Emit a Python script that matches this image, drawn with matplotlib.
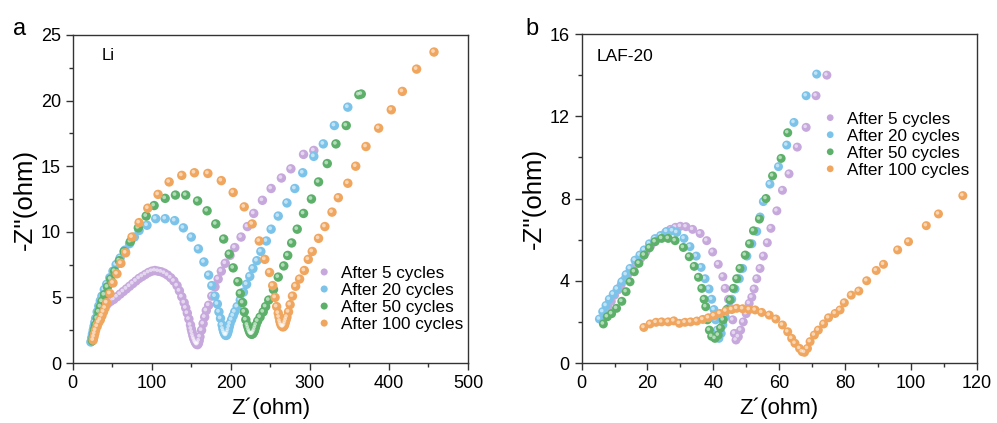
import matplotlib
matplotlib.use("Agg")
import matplotlib.pyplot as plt
from matplotlib.ticker import MultipleLocator
from matplotlib.transforms import ScaledTranslation

plt.rcParams['font.family'] = ['Liberation Sans', 'DejaVu Sans']

labels = ["After 5 cycles", "After 20 cycles", "After 50 cycles", "After 100 cycles"]
colors = ["#c6a8dc", "#7cc3ea", "#5cb06a", "#f0a65e"]

# ---- Panel a (Li) ----
A5_x = [24, 25, 26, 27, 28, 29, 30, 31, 33, 35, 37, 40, 44, 48, 52, 56, 60, 64, 68, 72, 76, 80, 84, 88, 92, 96,
        100, 104, 108, 112, 116, 120, 124, 128, 132, 135, 138, 141, 143, 145, 147, 149, 150, 151, 152, 153, 154,
        155, 156, 157, 158, 159, 160, 161, 163, 165, 167, 169, 172, 176, 180, 184, 188, 193, 199, 205, 213, 221,
        229, 240, 251, 264, 276, 292, 305]
A5_y = [1.7, 2.0, 2.3, 2.6, 2.9, 3.1, 3.3, 3.5, 3.75, 3.95, 4.1, 4.3, 4.5, 4.7, 4.85, 5.05, 5.25, 5.45, 5.65,
        5.85, 6.05, 6.25, 6.45, 6.6, 6.75, 6.9, 7.0, 7.05, 7.0, 6.95, 6.85, 6.7, 6.5, 6.25, 5.9, 5.5, 5.05, 4.6,
        4.2, 3.8, 3.35, 2.9, 2.6, 2.35, 2.1, 1.9, 1.75, 1.6, 1.5, 1.42, 1.4, 1.5, 1.7, 2.0, 2.5, 3.0, 3.5, 4.0,
        4.4, 5.1, 5.8, 6.4, 7.0, 7.6, 8.2, 8.8, 9.6, 10.4, 11.4, 12.4, 13.3, 14.1, 14.8, 15.9, 16.2]

A20_x = [23, 24, 25, 26, 27, 28, 29, 31, 33, 35, 37, 40, 43, 47, 51, 55, 60, 66, 72, 78, 84, 94, 105, 117, 129,
         140, 150, 159, 166, 172, 176, 180, 183, 185, 187, 189, 190, 191, 192, 193, 194, 195, 196, 197, 198, 199,
         201, 203, 205, 208, 212, 216, 220, 224, 228, 233, 238, 245, 251, 260, 271, 281, 291, 305, 317, 331, 348]
A20_y = [1.6, 1.9, 2.2, 2.5, 2.8, 3.1, 3.4, 3.9, 4.35, 4.75, 5.1, 5.6, 6.0, 6.5, 7.0, 7.5, 8.0, 8.6, 9.1, 9.6,
         10.1, 10.5, 11.0, 11.0, 10.85, 10.3, 9.6, 8.7, 7.7, 6.7, 5.9, 5.1, 4.5, 3.9, 3.4, 2.9, 2.6, 2.4, 2.25,
         2.15, 2.1, 2.15, 2.3, 2.5, 2.75, 3.0, 3.3, 3.6, 3.9, 4.3, 4.8, 5.4, 6.0, 6.6, 7.2, 7.8, 8.5, 9.3, 10.2,
         11.2, 12.2, 13.3, 14.5, 15.75, 16.7, 18.1, 19.5]

A50_x = [25, 26, 27, 28, 29, 31, 33, 35, 37, 40, 44, 48, 53, 59, 65, 73, 83, 93, 103, 117, 130, 143, 158, 170,
         181, 191, 198, 203, 209, 212, 215, 217, 219, 221, 222, 223, 224, 225, 226, 227, 228, 229, 230, 231, 232,
         234, 237, 241, 244, 248, 254, 260, 267, 272, 277, 284, 292, 302, 311, 322, 333, 346, 362, 365]
A50_y = [1.7, 2.0, 2.3, 2.6, 2.9, 3.4, 3.9, 4.3, 4.7, 5.2, 5.8, 6.4, 7.0, 7.8, 8.5, 9.25, 10.3, 11.2, 12.0,
         12.55, 12.8, 12.8, 12.35, 11.6, 10.6, 9.45, 8.3, 7.25, 6.2, 5.3, 4.6, 3.9, 3.3, 2.9, 2.7, 2.5, 2.35,
         2.25, 2.2, 2.2, 2.25, 2.35, 2.5, 2.7, 2.9, 3.2, 3.5, 3.9, 4.3, 4.8, 5.6, 6.55, 7.4, 8.2, 9.15, 10.2,
         11.4, 12.5, 13.8, 15.2, 16.7, 18.1, 20.45, 20.5]

A100_x = [26, 27, 28, 29, 31, 33, 35, 37, 39, 41, 43, 47, 51, 56, 61, 67, 75, 84, 95, 108, 122, 138, 154, 171,
          188, 203, 217, 227, 236, 243, 249, 253, 256, 258, 260, 261, 262, 263, 264, 265, 266, 267, 268, 269,
          270, 271, 273, 275, 278, 282, 287, 293, 298, 303, 311, 319, 328, 336, 348, 358, 371, 387, 403, 417,
          435, 457]
A100_y = [1.75, 2.0, 2.25, 2.5, 2.8, 3.1, 3.3, 3.6, 3.9, 4.2, 4.6, 5.3, 6.1, 6.8, 7.6, 8.4, 9.6, 10.7, 11.8,
          12.85, 13.8, 14.3, 14.5, 14.45, 13.9, 13.0, 11.9, 10.6, 9.3, 7.9, 6.9, 5.9, 5.0, 4.3, 3.8, 3.5, 3.2,
          3.0, 2.85, 2.8, 2.75, 2.8, 2.9, 3.1, 3.3, 3.5, 3.9, 4.45, 5.1, 5.85, 6.4, 7.05, 7.9, 8.5, 9.5, 10.4,
          11.5, 12.6, 13.7, 15.0, 16.5, 17.9, 19.3, 20.7, 22.4, 23.7]

# ---- Panel b (LAF-20) ----
B5_x = [7, 8, 9, 10, 11, 12, 13, 14, 15, 16.5, 18, 19.5, 21, 22.5, 24, 25.5, 27, 28.5, 30, 31.7, 33.7, 36, 38,
        39.8, 41.5, 42.9, 43.6, 44.6, 45.3, 45.9, 46.4, 46.9, 47.6, 48.3, 49.1, 50, 50.9, 51.7, 52.4, 53.2, 54.2,
        55.2, 56.4, 57.5, 59.3, 61, 63, 65.5, 68.2, 71.2, 74.5]
B5_y = [2.4, 2.7, 3.0, 3.3, 3.55, 3.8, 4.05, 4.3, 4.5, 4.8, 5.1, 5.4, 5.7, 5.95, 6.15, 6.35, 6.5, 6.6, 6.65,
        6.63, 6.5, 6.3, 5.95, 5.4, 4.8, 4.2, 3.63, 3.1, 2.66, 2.1, 1.44, 1.12, 1.28, 1.6, 2.0, 2.4, 2.9, 3.2,
        3.6, 4.1, 4.6, 5.2, 5.85, 6.55, 7.4, 8.4, 9.2, 10.5, 11.46, 13.0, 14.0]

B20_x = [5.4, 6.4, 7.4, 8.4, 9.6, 10.8, 12.2, 13.5, 14.7, 16.2, 17.7, 19, 20.6, 22.3, 24, 25.8, 27.6, 28.9,
         31.1, 32.9, 34.8, 36.3, 37.5, 38.7, 39.5, 40.2, 40.7, 41.2, 41.7, 42.4, 42.9, 43.6, 44.6, 45.6, 46.6,
         47.9, 48.9, 50.2, 51.7, 53.2, 54.2, 55.2, 57.2, 59.8, 62.3, 64.5, 68.2, 71.4]
B20_y = [2.14, 2.5, 2.8, 3.1, 3.35, 3.6, 3.95, 4.3, 4.6, 5.0, 5.25, 5.5, 5.8, 6.05, 6.2, 6.4, 6.43, 6.35, 6.06,
         5.66, 5.2, 4.65, 4.1, 3.6, 3.1, 2.6, 2.1, 1.6, 1.2, 1.44, 1.85, 2.25, 2.66, 3.1, 3.6, 4.1, 4.6, 5.2,
         5.8, 6.4, 7.1, 7.85, 8.7, 9.55, 10.6, 11.7, 13.0, 14.05]

B50_x = [6.6, 7.8, 9.1, 10.6, 12.2, 13.5, 14.7, 16, 17.4, 19, 20.6, 22.3, 24.3, 26.3, 28.4, 30.9, 32.7, 34.2,
         35.5, 36.5, 37.2, 37.7, 38.2, 38.8, 39.5, 40.5, 41.5, 42.2, 43, 44.1, 45.1, 46.1, 47.1, 48.1, 49.7, 51,
         52.2, 54, 56, 58, 60.6, 62.6]
B50_y = [1.9, 2.25, 2.4, 2.66, 3.0, 3.47, 3.95, 4.44, 4.85, 5.25, 5.6, 5.9, 6.06, 6.06, 5.95, 5.62, 5.17, 4.7,
         4.17, 3.63, 3.1, 2.74, 2.1, 1.6, 1.3, 1.2, 1.36, 1.7, 2.1, 2.6, 3.06, 3.63, 4.1, 4.6, 5.25, 5.8, 6.43,
         7.0, 8.0, 9.1, 9.95, 11.2]

B100_x = [18.9, 20.8, 22.6, 24.3, 26.3, 28, 29.7, 31.4, 33.1, 35, 36.8, 38.5, 40.2, 42, 43.8, 45.6, 47.1, 48.9,
          50.9, 52.7, 54.7, 57, 59, 61, 62.6, 63.8, 64.8, 66.2, 67, 67.7, 68.6, 69.4, 70.7, 71.9, 73.5, 75, 77,
          78.5, 79.8, 81.9, 84.2, 86.6, 89.5, 91.7, 96, 99.3, 104.7, 108.4, 115.8]
B100_y = [1.73, 1.9, 1.98, 2.0, 2.0, 2.05, 1.93, 1.98, 2.0, 2.04, 2.12, 2.2, 2.3, 2.41, 2.53, 2.6, 2.66, 2.64,
          2.6, 2.58, 2.46, 2.33, 2.14, 1.85, 1.52, 1.2, 0.96, 0.71, 0.55, 0.52, 0.71, 1.04, 1.36, 1.6, 1.9, 2.2,
          2.41, 2.58, 2.93, 3.3, 3.5, 4.0, 4.5, 4.8, 5.5, 5.9, 6.68, 7.25, 8.14]

panel_a = [(A5_x, A5_y), (A20_x, A20_y), (A50_x, A50_y), (A100_x, A100_y)]
panel_b = [(B5_x, B5_y), (B20_x, B20_y), (B50_x, B50_y), (B100_x, B100_y)]

fig = plt.figure(figsize=(9.97, 4.23), dpi=100)
axa = fig.add_axes([0.0729, 0.1418, 0.3965, 0.7755])
axb = fig.add_axes([0.5834, 0.1418, 0.3962, 0.7778])


def draw(ax, series, ms):
    shift = ScaledTranslation(-1.0 / 100, 1.0 / 100, fig.dpi_scale_trans)
    for (x, y), c, lab in zip(series, colors, labels):
        ax.scatter(x, y, s=ms, color=c, edgecolors='none', label=lab, zorder=3)
        ax.scatter(x, y, s=ms * 0.16, color='white', alpha=0.55, edgecolors='none',
                   transform=ax.transData + shift, zorder=3)


draw(axa, panel_a, 46)
draw(axb, panel_b, 42)

for ax in (axa, axb):
    for sp in ax.spines.values():
        sp.set_linewidth(1.0)
        sp.set_color('#333333')
    ax.tick_params(which='both', direction='out', top=False, right=False, labelsize=13, color='#333333')
    ax.tick_params(which='major', length=5, width=1)
    ax.tick_params(which='minor', length=3, width=1)
    ax.set_xlabel("Z\u00b4(ohm)", fontsize=16, labelpad=4)
    ax.set_ylabel("-Z''(ohm)", fontsize=18.5, labelpad=3)

axa.set_xlim(0, 500)
axa.set_ylim(0, 25)
axa.xaxis.set_major_locator(MultipleLocator(100))
axa.xaxis.set_minor_locator(MultipleLocator(50))
axa.yaxis.set_major_locator(MultipleLocator(5))
axa.yaxis.set_minor_locator(MultipleLocator(2.5))

axb.set_xlim(0, 120)
axb.set_ylim(0, 16)
axb.xaxis.set_major_locator(MultipleLocator(20))
axb.xaxis.set_minor_locator(MultipleLocator(10))
axb.yaxis.set_major_locator(MultipleLocator(4))
axb.yaxis.set_minor_locator(MultipleLocator(2))

axa.text(0.074, 0.938, "Li", transform=axa.transAxes, fontsize=12, va='center', ha='left')
axb.text(0.039, 0.932, "LAF-20", transform=axb.transAxes, fontsize=12.5, va='center', ha='left')

fig.text(0.013, 0.932, "a", fontsize=17, va='center')
fig.text(0.527, 0.932, "b", fontsize=17, va='center')

leg_kw = dict(frameon=False, fontsize=12.3, handletextpad=0.5, labelspacing=0.12, borderpad=0,
              handlelength=1.0, markerscale=0.75, scatteryoffsets=[0.5])
la = axa.legend(loc='upper left', bbox_to_anchor=(0.593, 0.322), **leg_kw)
lb = axb.legend(loc='upper left', bbox_to_anchor=(0.586, 0.79), **leg_kw)

fig.savefig("out.png", dpi=100)
